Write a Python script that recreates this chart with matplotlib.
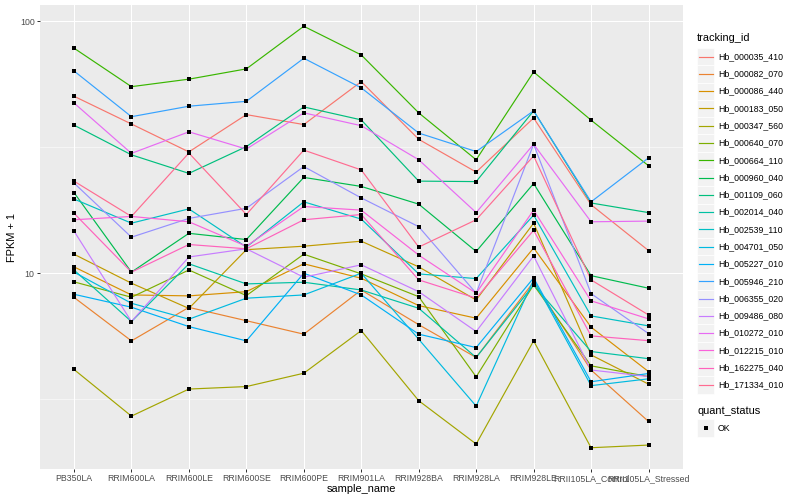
import numpy as np
import matplotlib
matplotlib.use("Agg")
import matplotlib.pyplot as plt
from matplotlib.patches import Rectangle
from matplotlib.lines import Line2D
from matplotlib.ticker import FixedLocator, NullFormatter

plt.rcParams['font.family'] = ['Liberation Sans', 'DejaVu Sans']

samples = ["PB350LA", "RRIM600LA", "RRIM600LE", "RRIM600SE", "RRIM600PE",
           "RRIM901LA", "RRIM928BA", "RRIM928LA", "RRIM928LE",
           "RRII105LA_Control", "RRII105LA_Stressed"]

tracking_ids = ["Hb_000035_410", "Hb_000082_070", "Hb_000086_440", "Hb_000183_050",
                "Hb_000347_560", "Hb_000640_070", "Hb_000664_110", "Hb_000960_040",
                "Hb_001109_060", "Hb_002014_040", "Hb_002539_110", "Hb_004701_050",
                "Hb_005227_010", "Hb_005946_210", "Hb_006355_020", "Hb_009486_080",
                "Hb_010272_010", "Hb_012215_010", "Hb_162275_040", "Hb_171334_010"]

colors = ["#F8766D", "#EA8331", "#D89000", "#C09B00", "#A3A500", "#7CAE00", "#39B600",
          "#00BB4E", "#00BF7D", "#00C1A3", "#00BFC4", "#00BAE0", "#00B0F6", "#35A2FF",
          "#9590FF", "#C77CFF", "#E76BF3", "#FA62DB", "#FF62BC", "#FF6C91"]

# FPKM + 1 values per sample
Hb_000035_410 = [50.4, 39.1, 30.3, 42.6, 38.9, 57.6, 34.0, 25.2, 41.3, 18.7, 12.3]
Hb_000082_070 = [8.02, 5.39, 7.32, 6.48, 5.73, 8.58, 6.25, 4.63, 9.24, 4.13, 2.58]
Hb_000086_440 = [10.6, 8.20, 8.13, 8.45, 10.9, 9.55, 7.44, 6.63, 12.6, 6.11, 4.07]
Hb_000183_050 = [11.9, 9.13, 7.25, 12.4, 12.8, 13.4, 10.6, 7.83, 15.8, 4.74, 3.63]
Hb_000347_560 = [4.15, 2.71, 3.47, 3.55, 4.01, 5.92, 3.12, 2.10, 5.39, 2.03, 2.08]
Hb_000640_070 = [9.24, 8.03, 10.3, 8.15, 11.9, 9.94, 8.07, 3.88, 8.99, 4.29, 3.89]
Hb_000664_110 = [78.2, 55.0, 58.9, 64.7, 95.5, 73.5, 43.3, 28.2, 62.9, 40.5, 26.7]
Hb_000960_040 = [20.9, 10.1, 14.4, 13.6, 24.0, 22.1, 18.8, 12.2, 22.7, 9.78, 8.72]
Hb_001109_060 = [38.7, 29.5, 24.9, 31.8, 45.7, 40.6, 23.2, 23.1, 44.1, 19.0, 17.4]
Hb_002014_040 = [10.3, 6.43, 10.9, 9.07, 9.21, 8.58, 7.26, 4.63, 8.99, 4.89, 4.58]
Hb_002539_110 = [19.7, 15.8, 18.0, 12.7, 19.2, 16.4, 9.94, 9.52, 17.0, 6.77, 6.18]
Hb_004701_050 = [10.1, 7.60, 6.57, 7.96, 8.20, 10.0, 5.47, 2.97, 9.41, 3.58, 3.81]
Hb_005227_010 = [8.25, 7.33, 6.14, 5.39, 10.0, 8.20, 5.73, 5.07, 9.58, 3.71, 4.00]
Hb_005946_210 = [63.5, 41.8, 46.0, 48.1, 71.3, 54.4, 36.0, 30.4, 44.1, 19.2, 28.7]
Hb_006355_020 = [22.8, 13.9, 16.5, 18.1, 26.5, 19.9, 15.3, 8.33, 32.5, 8.30, 5.76]
Hb_009486_080 = [14.7, 6.43, 11.6, 12.5, 9.64, 10.8, 8.45, 5.87, 11.7, 4.13, 3.89]
Hb_010272_010 = [47.4, 29.9, 36.4, 31.1, 43.3, 38.5, 28.2, 17.4, 32.5, 16.0, 16.1]
Hb_012215_010 = [16.3, 16.8, 16.0, 12.8, 18.4, 17.8, 11.8, 8.33, 17.8, 7.77, 6.59]
Hb_162275_040 = [17.3, 10.1, 13.0, 12.5, 16.3, 17.1, 9.41, 7.96, 14.8, 5.64, 5.40]
Hb_171334_010 = [23.2, 16.8, 30.0, 17.1, 30.8, 25.7, 12.7, 16.3, 29.2, 9.41, 6.83]

series = [Hb_000035_410, Hb_000082_070, Hb_000086_440, Hb_000183_050, Hb_000347_560,
          Hb_000640_070, Hb_000664_110, Hb_000960_040, Hb_001109_060, Hb_002014_040,
          Hb_002539_110, Hb_004701_050, Hb_005227_010, Hb_005946_210, Hb_006355_020,
          Hb_009486_080, Hb_010272_010, Hb_012215_010, Hb_162275_040, Hb_171334_010]

W, H = 800, 500
fig = plt.figure(figsize=(8, 5), dpi=100)
PX = 72.0 / 100  # points per pixel

def fx(px):
    return px / W

def fy(py):
    return 1 - py / H

# panel placement (pixels)
left, right, top, bottom = 39.5, 683.0, 5.2, 468.8
ax = fig.add_axes([fx(left), fy(bottom), fx(right) - fx(left), fy(top) - fy(bottom)])
ax.set_facecolor("#EBEBEB")
for s in ax.spines.values():
    s.set_visible(False)

x = np.arange(1, len(samples) + 1)
for vals, c in zip(series, colors):
    ax.plot(x, vals, color=c, lw=0.85, solid_capstyle='butt', zorder=3)
for vals in series:
    ax.plot(x, vals, linestyle='none', marker='s', ms=3.0, color='black',
            markeredgewidth=0, zorder=4)

ax.set_yscale('log')
allv = np.log10(np.concatenate([np.array(v) for v in series]))
lo, hi = allv.min(), allv.max()
r = hi - lo
ax.set_ylim(10 ** (lo - 0.05 * r), 10 ** (hi + 0.05 * r))
ax.set_xlim(0.4, len(samples) + 0.6)

ax.yaxis.set_major_locator(FixedLocator([10, 100]))
ax.set_yticklabels(["10", "100"])
ax.yaxis.set_minor_locator(FixedLocator([10 ** 0.5, 10 ** 1.5]))
ax.yaxis.set_minor_formatter(NullFormatter())
ax.set_xticks(x)
ax.set_xticklabels(samples)

ax.grid(which='major', color='white', lw=1.07 * PX * 1.0)
ax.grid(which='minor', axis='y', color='white', lw=0.55 * PX)
ax.set_axisbelow(True)
ax.tick_params(which='major', length=2.75 * PX, width=1.0 * PX, color='#333333',
               labelsize=8.8 * PX, labelcolor='#4D4D4D', pad=2.2 * PX)
ax.tick_params(which='minor', length=0)

fig.text(fx(361), fy(489), "sample_name", ha='center', va='center', fontsize=11 * PX)
fig.text(fx(12), fy((top + bottom) / 2), "FPKM + 1", ha='center', va='center',
         rotation=90, fontsize=11 * PX)

# legend: tracking_id
key_x0, key_w = 697.0, 17.28
fig.text(fx(697), fy(38), "tracking_id", ha='left', va='center', fontsize=11 * PX)
first_y = 48.0
for i, (name, c) in enumerate(zip(tracking_ids, colors)):
    y0 = first_y + i * key_w
    fig.add_artist(Rectangle((fx(key_x0), fy(y0 + key_w)), key_w / W, key_w / H,
                             transform=fig.transFigure, facecolor="#F2F2F2",
                             edgecolor="white", lw=0.5))
    yc = y0 + key_w / 2
    fig.add_artist(Line2D([fx(key_x0 + 1.7), fx(key_x0 + key_w - 1.7)], [fy(yc), fy(yc)],
                          transform=fig.transFigure, color=c, lw=0.85))
    fig.text(fx(key_x0 + key_w + 3.5), fy(yc), name, ha='left', va='center',
             fontsize=8.8 * PX)

# legend: quant_status
fig.text(fx(697), fy(411), "quant_status", ha='left', va='center', fontsize=11 * PX)
y0 = 419.5
fig.add_artist(Rectangle((fx(key_x0), fy(y0 + key_w)), key_w / W, key_w / H,
                         transform=fig.transFigure, facecolor="#F2F2F2",
                         edgecolor="white", lw=0.5))
yc = y0 + key_w / 2
fig.add_artist(Line2D([fx(key_x0 + key_w / 2)], [fy(yc)], transform=fig.transFigure,
                      marker='s', ms=3.0, color='black', markeredgewidth=0, linestyle='none'))
fig.text(fx(key_x0 + key_w + 3.5), fy(yc), "OK", ha='left', va='center', fontsize=8.8 * PX)

fig.savefig("out.png", dpi=100)
